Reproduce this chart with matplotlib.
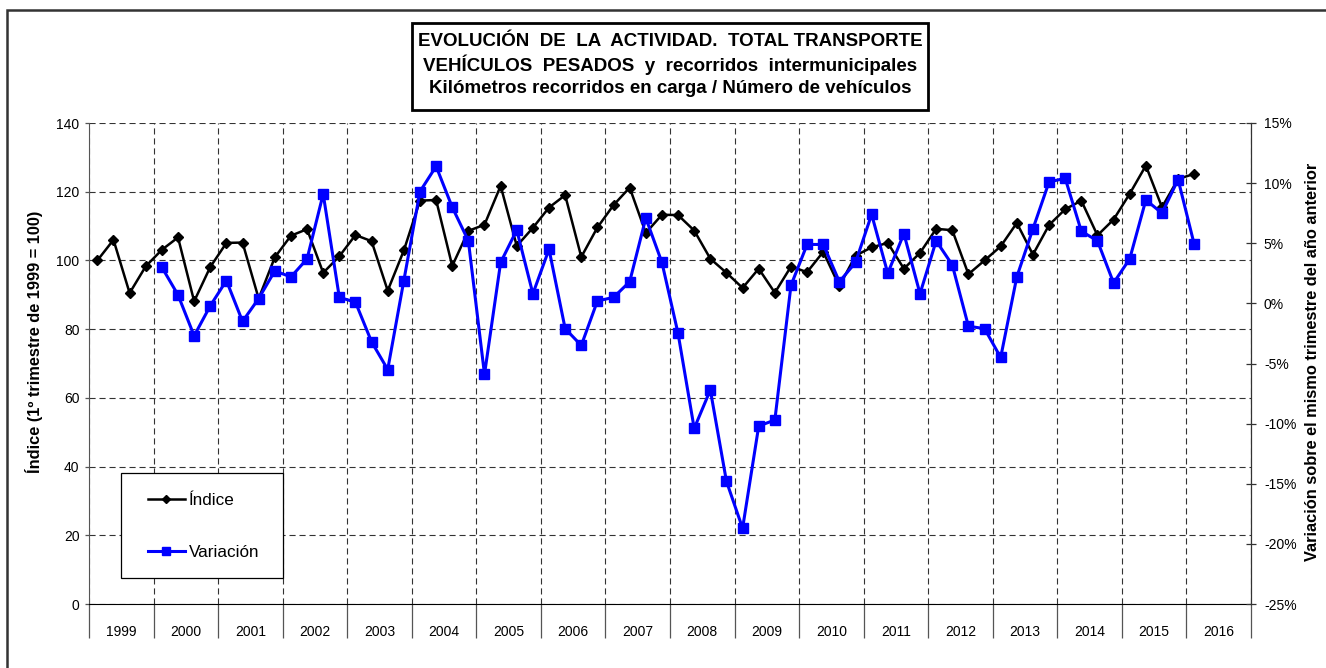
import matplotlib.pyplot as plt
import numpy as np
from matplotlib.ticker import FixedLocator, FuncFormatter, NullFormatter
from matplotlib.patches import Rectangle

plt.rcParams['font.family'] = ['Liberation Sans', 'DejaVu Sans']

# quarterly series, first quarter 1999 onwards
years = list(range(1999, 2017))
indice = [
    100.0, 106.0, 90.5, 98.3,     # 1999
    103.1, 106.7, 88.1, 98.1,     # 2000
    105.1, 105.2, 88.9, 100.9,    # 2001
    107.2, 109.1, 96.4, 101.2,    # 2002
    107.4, 105.6, 91.2, 102.9,    # 2003
    117.4, 117.6, 98.4, 108.6,    # 2004
    110.4, 121.7, 104.2, 109.5,   # 2005
    115.4, 119.0, 101.0, 109.6,   # 2006
    116.1, 121.2, 108.0, 113.3,   # 2007
    113.2, 108.7, 100.5, 96.4,    # 2008
    92.0, 97.6, 90.6, 98.2,       # 2009
    96.6, 102.5, 92.5, 101.4,     # 2010
    103.8, 105.1, 97.6, 102.2,    # 2011
    109.2, 108.8, 96.0, 100.0,    # 2012
    104.1, 110.9, 101.7, 110.3,   # 2013
    114.9, 117.4, 107.3, 111.9,   # 2014
    119.4, 127.6, 115.5, 123.7,   # 2015
    125.2,                        # 2016
]

# year-on-year change (%), first quarter 2000 onwards
variacion = [
    3.0, 0.7, -2.7, -0.2,         # 2000
    1.9, -1.5, 0.4, 2.7,          # 2001
    2.2, 3.7, 9.1, 0.5,           # 2002
    0.1, -3.2, -5.5, 1.9,         # 2003
    9.3, 11.4, 8.0, 5.2,          # 2004
    -5.9, 3.4, 6.1, 0.8,          # 2005
    4.5, -2.1, -3.5, 0.2,         # 2006
    0.5, 1.8, 7.1, 3.4,           # 2007
    -2.5, -10.4, -7.2, -14.8,     # 2008
    -18.7, -10.2, -9.7, 1.5,      # 2009
    4.9, 4.9, 1.8, 3.4,           # 2010
    7.4, 2.5, 5.8, 0.8,           # 2011
    5.2, 3.2, -1.9, -2.1,         # 2012
    -4.5, 2.2, 6.2, 10.1,         # 2013
    10.4, 6.0, 5.2, 1.7,          # 2014
    3.7, 8.6, 7.5, 10.3,          # 2015
    4.9,                          # 2016
]

titulo = ["EVOLUCIÓN  DE  LA  ACTIVIDAD.  TOTAL TRANSPORTE",
          "VEHÍCULOS  PESADOS  y  recorridos  intermunicipales",
          "Kilómetros recorridos en carga / Número de vehículos"]

W, H = 1326, 668
fig = plt.figure(figsize=(W / 100, H / 100), dpi=100)

def px(x0, y0, x1, y1):
    # pixel box (top-left origin) -> figure fraction [l, b, w, h]
    return [x0 / W, 1 - y1 / H, (x1 - x0) / W, (y1 - y0) / H]

ax = fig.add_axes(px(89.3, 123, 1250.7, 604))
ax2 = ax.twinx()

n_q = len(years) * 4
x_ind = np.arange(len(indice)) + 0.5
x_var = np.arange(len(variacion)) + 4.5

grid_kw = dict(color='#333333', linestyle=(0, (5.5, 3.5)), linewidth=0.8)

ax.plot(x_ind, indice, color='black', lw=1.8, marker='D', ms=5,
        label='Índice', zorder=3)
ax2.plot(x_var, variacion, color='#0000ff', lw=2.2, marker='s', ms=6.5,
         label='Variación', zorder=3)

ax.set_xlim(0, n_q)
ax.set_ylim(0, 140)
ax.set_yticks(np.arange(0, 141, 20))
ax2.set_ylim(-25, 15)
ax2.set_yticks(np.arange(-25, 16, 5))
ax2.yaxis.set_major_formatter(FuncFormatter(lambda v, p: f'{v:.0f}%'))

# year separators as long ticks, year names centred between them
ax.xaxis.set_major_locator(FixedLocator(np.arange(0, n_q + 1, 4)))
ax.xaxis.set_major_formatter(NullFormatter())
ax.xaxis.set_minor_locator(FixedLocator(np.arange(2, n_q, 4)))
ax.set_xticklabels([str(y) for y in years], minor=True)
ax.tick_params(axis='x', which='major', direction='out', length=24.5,
               width=0.9, color='#555555')
ax.tick_params(axis='x', which='minor', length=0, pad=15, labelsize=10)
ax.tick_params(axis='y', direction='out', length=3, width=0.9,
               color='#555555', labelsize=10, pad=4)
ax2.tick_params(axis='y', direction='inout', length=7, width=0.9,
                color='#333333', labelsize=10, pad=6)

ax.set_axisbelow(True)
ax.grid(True, which='major', **grid_kw)

for a in (ax, ax2):
    a.spines['top'].set_visible(False)
ax.spines['left'].set_color('#555555')
ax.spines['bottom'].set_color('black')
ax2.spines['right'].set_color('#333333')
ax2.spines['left'].set_visible(False)
ax2.spines['bottom'].set_visible(False)

ax.set_ylabel('Índice (1º trimestre de 1999 = 100)', fontsize=11.8,
              fontweight='bold')
ax.yaxis.set_label_coords((43 - 89.3) / 1161.4, (604 - 341.5) / 481)
ax2.set_ylabel('Variación sobre el mismo trimestre del año anterior',
               fontsize=11.8, fontweight='bold', rotation=90)
ax2.yaxis.set_label_coords((1305 - 89.3) / 1161.4, (604 - 362) / 481)

# legend: frame drawn separately, entries placed inside it
lb = px(120.7, 472.7, 282.7, 578.3)
fig.patches.append(Rectangle((lb[0], lb[1]), lb[2], lb[3],
                             transform=fig.transFigure, fill=True,
                             facecolor='white', edgecolor='black', lw=0.9,
                             zorder=5))
h1, l1 = ax.get_legend_handles_labels()
h2, l2 = ax2.get_legend_handles_labels()
leg = fig.legend(h1 + h2, l1 + l2, loc='upper left',
                 bbox_to_anchor=(148 / W, 1 - 493 / H),
                 fontsize=12.3, frameon=False, borderpad=0,
                 handlelength=2.15, handletextpad=0.25, labelspacing=2.15,
                 borderaxespad=0, markerscale=0.8)
leg.set_zorder(6)

# title box
tb = px(412.3, 22.7, 928.3, 110)
fig.patches.append(Rectangle((tb[0], tb[1]), tb[2], tb[3],
                             transform=fig.transFigure, fill=False,
                             edgecolor='black', lw=2))
for i, line in enumerate(titulo):
    fig.text((412.3 + 928.3) / 2 / W, 1 - (42 + 23.2 * i) / H, line,
             ha='center', va='center', fontsize=13.5, fontweight='bold')

# chart area border (only top and left edges fall inside the image)
ob = px(6.7, 9.7, W + 10, H + 10)
fig.patches.append(Rectangle((ob[0], ob[1]), ob[2], ob[3],
                             transform=fig.transFigure, fill=False,
                             edgecolor='#333333', lw=1.8))

fig.savefig('out.png', dpi=100)
